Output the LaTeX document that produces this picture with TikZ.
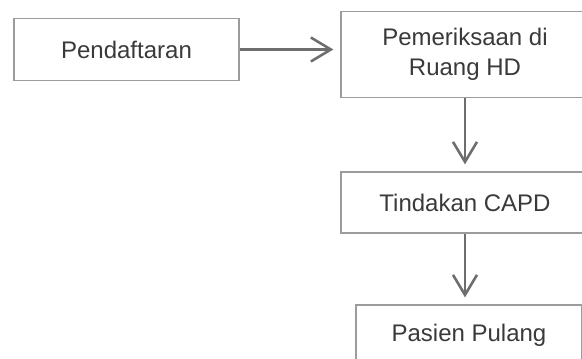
\documentclass[tikz,border=0pt]{standalone}
\usepackage{fontspec}
\setmainfont{Liberation Sans}
\usetikzlibrary{arrows.meta}
\definecolor{boxgray}{HTML}{9C9C9C}
\definecolor{textgray}{HTML}{3A3A3A}
\definecolor{arrowgray}{HTML}{6E6E6E}
\begin{document}
\begin{tikzpicture}[x=1pt,y=-1pt,
    stepbox/.style={draw=boxgray, line width=1.2pt, text=textgray, align=center,
      font=\fontsize{24}{30}\selectfont, inner sep=0pt},
    flow/.style={draw=arrowgray, line width=2.6pt,
      -{Straight Barb[length=20pt,width=24pt]}, shorten >=7pt}]
        \clip (0,0) rectangle (582,359);
        \fill[white] (0,0) rectangle (582,359);

        \node[stepbox, minimum width=225pt, minimum height=62pt] (daftar) at (126.5,49.5) {Pendaftaran};
        \node[stepbox, minimum width=248pt, minimum height=86pt] (periksa) at (465,54.5) {Pemeriksaan di\\Ruang HD};
        \node[stepbox, minimum width=248pt, minimum height=61pt] (tindakan) at (465,202.5) {Tindakan CAPD};
        \node[stepbox, minimum width=226pt, minimum height=61pt] (pulang) at (469,335.5) {Pasien Pulang};

        \path[flow] (daftar.east) -- (daftar.east -| periksa.west);
        \path[flow] (periksa) -- (tindakan);
        \path[flow] (tindakan.south) -- (tindakan.south |- pulang.north);
    \end{tikzpicture}
\end{document}
